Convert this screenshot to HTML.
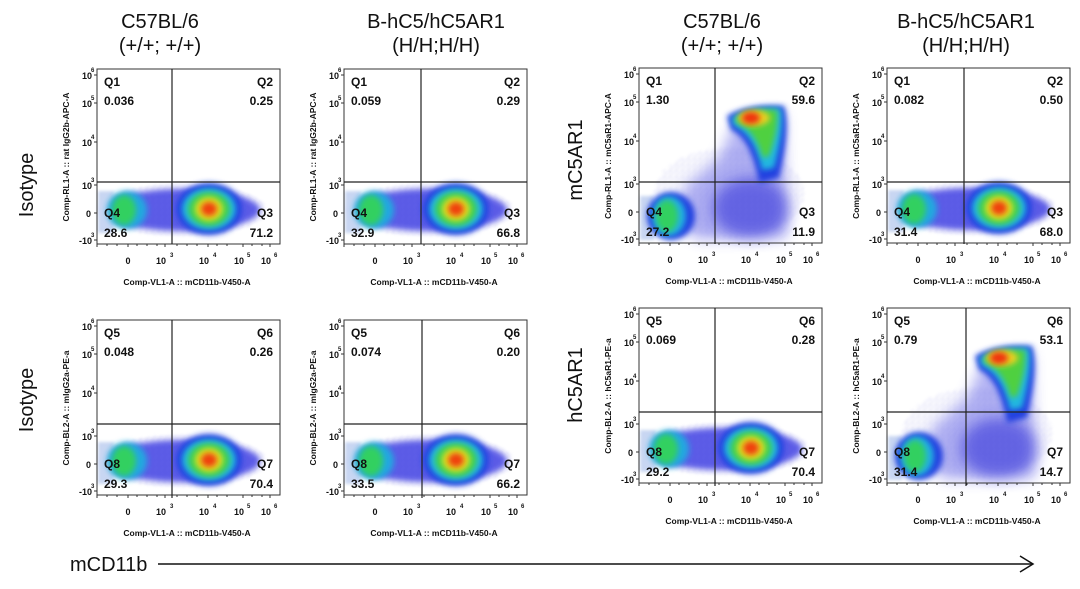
<!DOCTYPE html>
<html><head><meta charset="utf-8"><style>
html,body{margin:0;padding:0;background:#fff;width:1080px;height:589px;overflow:hidden}
svg{display:block}
.h{font-family:"Liberation Sans",sans-serif;font-size:20px;fill:#111}
.q{font-family:"Liberation Sans",sans-serif;font-size:12px;font-weight:bold;fill:#111}
.t{font-family:"Liberation Sans",sans-serif;font-size:9px;font-weight:bold;fill:#111}
.s{font-family:"Liberation Sans",sans-serif;font-size:6px;font-weight:bold;fill:#111}
.ax{font-family:"Liberation Sans",sans-serif;font-size:8.5px;font-weight:bold;fill:#111}
</style></head><body>
<svg width="1080" height="589" viewBox="0 0 1080 589" xmlns="http://www.w3.org/2000/svg">
<defs>
<filter id="b" x="-30%" y="-30%" width="160%" height="160%"><feGaussianBlur stdDeviation="3"/></filter>
<filter id="b6" x="-30%" y="-30%" width="160%" height="160%"><feGaussianBlur stdDeviation="7"/></filter>
<filter id="b2" x="-30%" y="-30%" width="160%" height="160%"><feGaussianBlur stdDeviation="1.5"/></filter>
<pattern id="sp" width="6" height="6" patternUnits="userSpaceOnUse"><rect width="6" height="6" fill="#fff"/><circle cx="1" cy="1" r="0.8" fill="#3030e0"/><circle cx="4" cy="3" r="0.7" fill="#5050f0"/><circle cx="2" cy="5" r="0.6" fill="#2020c0"/></pattern>
<g id="iso">
 <ellipse cx="85" cy="141" rx="84" ry="26" fill="url(#sp)" opacity="0.8" filter="url(#b2)"/>
 <ellipse cx="85" cy="141" rx="78" ry="21" fill="#2a2ae0" opacity="0.75" filter="url(#b)"/>
 <rect x="1" y="122" width="16" height="42" fill="#c8d6f2" filter="url(#b2)"/>
 <ellipse cx="30" cy="141" rx="20" ry="19" fill="#20a8e0" filter="url(#b)"/>
 <ellipse cx="27" cy="141" rx="12" ry="15" fill="#30d060" filter="url(#b)"/>
 <ellipse cx="112" cy="140" rx="33" ry="26" fill="#2040e0" filter="url(#b)"/>
 <ellipse cx="112" cy="140" rx="27" ry="21" fill="#20b8e0" filter="url(#b)"/>
 <ellipse cx="112" cy="140" rx="21" ry="17" fill="#40d050" filter="url(#b)"/>
 <ellipse cx="112" cy="140" rx="14" ry="12" fill="#e0e020" filter="url(#b)"/>
 <ellipse cx="112" cy="140" rx="8" ry="7" fill="#f04010" filter="url(#b)"/>
</g>
<g id="act">
 <ellipse cx="90" cy="125" rx="75" ry="45" fill="url(#sp)" opacity="0.6" filter="url(#b2)"/>
 <path d="M40 160 L45 120 L80 90 L95 55 L145 45 L148 170 L60 172 Z" fill="#4040e0" opacity="0.4" filter="url(#b6)"/>
 <ellipse cx="112" cy="140" rx="38" ry="30" fill="#2a2ad8" opacity="0.55" filter="url(#b6)"/>
 <path d="M88 48 Q110 35 145 38 Q152 60 140 110 L120 115 Q112 70 92 62 Z" fill="#2040e0" filter="url(#b)"/>
 <path d="M92 50 Q112 38 142 40 Q146 60 135 100 L123 102 Q115 66 95 58 Z" fill="#20b8e0" filter="url(#b)"/>
 <path d="M96 50 Q114 40 138 42 Q140 60 130 88 L124 90 Q116 62 98 55 Z" fill="#50d040" filter="url(#b)"/>
 <ellipse cx="115" cy="50" rx="16" ry="8" fill="#e8d020" filter="url(#b)"/>
 <ellipse cx="112" cy="50" rx="9" ry="6" fill="#f03010" filter="url(#b)"/>
 <rect x="1" y="128" width="14" height="44" fill="#c8d6f2" filter="url(#b2)"/>
 <ellipse cx="32" cy="148" rx="24" ry="24" fill="#2040e0" filter="url(#b)"/>
 <ellipse cx="30" cy="148" rx="17" ry="20" fill="#20b0e0" filter="url(#b)"/>
 <ellipse cx="28" cy="148" rx="11" ry="16" fill="#30d060" filter="url(#b)"/>
</g>
<g id="frame">
 <rect x="0" y="0" width="183" height="175" fill="none" stroke="#333" stroke-width="1"/>
 <path d="M0 175 v3 M10 175 v2 M20 175 v2 M31 175 v3 M40 175 v2 M50 175 v2 M60 175 v2 M68 175 v3 M80 175 v2 M90 175 v2 M100 175 v2 M111 175 v3 M120 175 v2 M130 175 v2 M146 175 v3 M155 175 v2 M165 175 v2 M173 175 v3" stroke="#333"/>
 <path d="M0 6 h-3 M0 34 h-3 M0 73 h-3 M0 116 h-3 M0 144 h-3 M0 171 h-3" stroke="#333"/>
 <text class="t" x="31" y="195" text-anchor="middle">0</text>
 <text class="t" x="64" y="195" text-anchor="middle">10</text><text class="s" x="73" y="188">3</text>
 <text class="t" x="107" y="195" text-anchor="middle">10</text><text class="s" x="116" y="188">4</text>
 <text class="t" x="142" y="195" text-anchor="middle">10</text><text class="s" x="150" y="188">5</text>
 <text class="t" x="169" y="195" text-anchor="middle">10</text><text class="s" x="177" y="188">6</text>
 <text class="t" x="-5" y="10" text-anchor="end">10</text><text class="s" x="-6" y="3">6</text>
 <text class="t" x="-5" y="38" text-anchor="end">10</text><text class="s" x="-6" y="31">5</text>
 <text class="t" x="-5" y="77" text-anchor="end">10</text><text class="s" x="-6" y="70">4</text>
 <text class="t" x="-5" y="120" text-anchor="end">10</text><text class="s" x="-6" y="113">3</text>
 <text class="t" x="-6" y="148" text-anchor="end">0</text>
 <text class="t" x="-5" y="175" text-anchor="end">-10</text><text class="s" x="-6" y="168">3</text>
</g>
</defs>

<text class="h" x="160" y="28" text-anchor="middle">C57BL/6</text>
<text class="h" x="160" y="52" text-anchor="middle">(+/+; +/+)</text>
<text class="h" x="436" y="28" text-anchor="middle">B-hC5/hC5AR1</text>
<text class="h" x="436" y="52" text-anchor="middle">(H/H;H/H)</text>
<text class="h" x="722" y="28" text-anchor="middle">C57BL/6</text>
<text class="h" x="722" y="52" text-anchor="middle">(+/+; +/+)</text>
<text class="h" x="966" y="28" text-anchor="middle">B-hC5/hC5AR1</text>
<text class="h" x="966" y="52" text-anchor="middle">(H/H;H/H)</text>
<text class="h" transform="translate(33,185) rotate(-90)" text-anchor="middle">Isotype</text>
<text class="h" transform="translate(33,400) rotate(-90)" text-anchor="middle">Isotype</text>
<text class="h" transform="translate(582,160) rotate(-90)" text-anchor="middle">mC5AR1</text>
<text class="h" transform="translate(582,385) rotate(-90)" text-anchor="middle">hC5AR1</text>

<g transform="translate(97,69)">
 <use href="#iso"/><use href="#frame"/>
 <path d="M75 0 V175 M0 113 H183" stroke="#222" stroke-width="1.2"/>
 <text class="q" x="7" y="17">Q1</text><text class="q" x="7" y="36">0.036</text>
 <text class="q" x="176" y="17" text-anchor="end">Q2</text><text class="q" x="176" y="36" text-anchor="end">0.25</text>
 <text class="q" x="7" y="148">Q4</text><text class="q" x="7" y="168">28.6</text>
 <text class="q" x="176" y="148" text-anchor="end">Q3</text><text class="q" x="176" y="168" text-anchor="end">71.2</text>
 <text class="ax" x="90" y="216" text-anchor="middle">Comp-VL1-A :: mCD11b-V450-A</text>
 <text class="ax" transform="translate(-28,88) rotate(-90)" text-anchor="middle">Comp-RL1-A :: rat IgG2b-APC-A</text>
</g>
<g transform="translate(344,69)">
 <use href="#iso"/><use href="#frame"/>
 <path d="M77 0 V175 M0 113 H183" stroke="#222" stroke-width="1.2"/>
 <text class="q" x="7" y="17">Q1</text><text class="q" x="7" y="36">0.059</text>
 <text class="q" x="176" y="17" text-anchor="end">Q2</text><text class="q" x="176" y="36" text-anchor="end">0.29</text>
 <text class="q" x="7" y="148">Q4</text><text class="q" x="7" y="168">32.9</text>
 <text class="q" x="176" y="148" text-anchor="end">Q3</text><text class="q" x="176" y="168" text-anchor="end">66.8</text>
 <text class="ax" x="90" y="216" text-anchor="middle">Comp-VL1-A :: mCD11b-V450-A</text>
 <text class="ax" transform="translate(-28,88) rotate(-90)" text-anchor="middle">Comp-RL1-A :: rat IgG2b-APC-A</text>
</g>
<g transform="translate(639,68)">
 <use href="#act"/><use href="#frame"/>
 <path d="M76 0 V176 M0 114 H183" stroke="#222" stroke-width="1.2"/>
 <text class="q" x="7" y="17">Q1</text><text class="q" x="7" y="36">1.30</text>
 <text class="q" x="176" y="17" text-anchor="end">Q2</text><text class="q" x="176" y="36" text-anchor="end">59.6</text>
 <text class="q" x="7" y="148">Q4</text><text class="q" x="7" y="168">27.2</text>
 <text class="q" x="176" y="148" text-anchor="end">Q3</text><text class="q" x="176" y="168" text-anchor="end">11.9</text>
 <text class="ax" x="90" y="216" text-anchor="middle">Comp-VL1-A :: mCD11b-V450-A</text>
 <text class="ax" transform="translate(-28,88) rotate(-90)" text-anchor="middle">Comp-RL1-A :: mC5aR1-APC-A</text>
</g>
<g transform="translate(887,68)">
 <use href="#iso"/><use href="#frame"/>
 <path d="M77 0 V176 M0 114 H183" stroke="#222" stroke-width="1.2"/>
 <text class="q" x="7" y="17">Q1</text><text class="q" x="7" y="36">0.082</text>
 <text class="q" x="176" y="17" text-anchor="end">Q2</text><text class="q" x="176" y="36" text-anchor="end">0.50</text>
 <text class="q" x="7" y="148">Q4</text><text class="q" x="7" y="168">31.4</text>
 <text class="q" x="176" y="148" text-anchor="end">Q3</text><text class="q" x="176" y="168" text-anchor="end">68.0</text>
 <text class="ax" x="90" y="216" text-anchor="middle">Comp-VL1-A :: mCD11b-V450-A</text>
 <text class="ax" transform="translate(-28,88) rotate(-90)" text-anchor="middle">Comp-RL1-A :: mC5aR1-APC-A</text>
</g>
<g transform="translate(97,320)">
 <use href="#iso"/><use href="#frame"/>
 <path d="M75 0 V178 M0 104 H183" stroke="#222" stroke-width="1.2"/>
 <text class="q" x="7" y="17">Q5</text><text class="q" x="7" y="36">0.048</text>
 <text class="q" x="176" y="17" text-anchor="end">Q6</text><text class="q" x="176" y="36" text-anchor="end">0.26</text>
 <text class="q" x="7" y="148">Q8</text><text class="q" x="7" y="168">29.3</text>
 <text class="q" x="176" y="148" text-anchor="end">Q7</text><text class="q" x="176" y="168" text-anchor="end">70.4</text>
 <text class="ax" x="90" y="216" text-anchor="middle">Comp-VL1-A :: mCD11b-V450-A</text>
 <text class="ax" transform="translate(-28,88) rotate(-90)" text-anchor="middle">Comp-BL2-A :: mIgG2a-PE-a</text>
</g>
<g transform="translate(344,320)">
 <use href="#iso"/><use href="#frame"/>
 <path d="M78 0 V178 M0 104 H183" stroke="#222" stroke-width="1.2"/>
 <text class="q" x="7" y="17">Q5</text><text class="q" x="7" y="36">0.074</text>
 <text class="q" x="176" y="17" text-anchor="end">Q6</text><text class="q" x="176" y="36" text-anchor="end">0.20</text>
 <text class="q" x="7" y="148">Q8</text><text class="q" x="7" y="168">33.5</text>
 <text class="q" x="176" y="148" text-anchor="end">Q7</text><text class="q" x="176" y="168" text-anchor="end">66.2</text>
 <text class="ax" x="90" y="216" text-anchor="middle">Comp-VL1-A :: mCD11b-V450-A</text>
 <text class="ax" transform="translate(-28,88) rotate(-90)" text-anchor="middle">Comp-BL2-A :: mIgG2a-PE-a</text>
</g>
<g transform="translate(639,308)">
 <use href="#iso"/><use href="#frame"/>
 <path d="M76 0 V178 M0 104 H183" stroke="#222" stroke-width="1.2"/>
 <text class="q" x="7" y="17">Q5</text><text class="q" x="7" y="36">0.069</text>
 <text class="q" x="176" y="17" text-anchor="end">Q6</text><text class="q" x="176" y="36" text-anchor="end">0.28</text>
 <text class="q" x="7" y="148">Q8</text><text class="q" x="7" y="168">29.2</text>
 <text class="q" x="176" y="148" text-anchor="end">Q7</text><text class="q" x="176" y="168" text-anchor="end">70.4</text>
 <text class="ax" x="90" y="216" text-anchor="middle">Comp-VL1-A :: mCD11b-V450-A</text>
 <text class="ax" transform="translate(-28,88) rotate(-90)" text-anchor="middle">Comp-BL2-A :: hC5aR1-PE-a</text>
</g>
<g transform="translate(887,308)">
 <use href="#act"/><use href="#frame"/>
 <path d="M79 0 V178 M0 104 H183" stroke="#222" stroke-width="1.2"/>
 <text class="q" x="7" y="17">Q5</text><text class="q" x="7" y="36">0.79</text>
 <text class="q" x="176" y="17" text-anchor="end">Q6</text><text class="q" x="176" y="36" text-anchor="end">53.1</text>
 <text class="q" x="7" y="148">Q8</text><text class="q" x="7" y="168">31.4</text>
 <text class="q" x="176" y="148" text-anchor="end">Q7</text><text class="q" x="176" y="168" text-anchor="end">14.7</text>
 <text class="ax" x="90" y="216" text-anchor="middle">Comp-VL1-A :: mCD11b-V450-A</text>
 <text class="ax" transform="translate(-28,88) rotate(-90)" text-anchor="middle">Comp-BL2-A :: hC5aR1-PE-a</text>
</g>

<text class="h" x="70" y="571">mCD11b</text>
<path d="M158 564 H1032" stroke="#111" stroke-width="1.5"/>
<path d="M1020 556 L1033 564 L1020 572" fill="none" stroke="#111" stroke-width="1.5"/>
</svg>
</body></html>
